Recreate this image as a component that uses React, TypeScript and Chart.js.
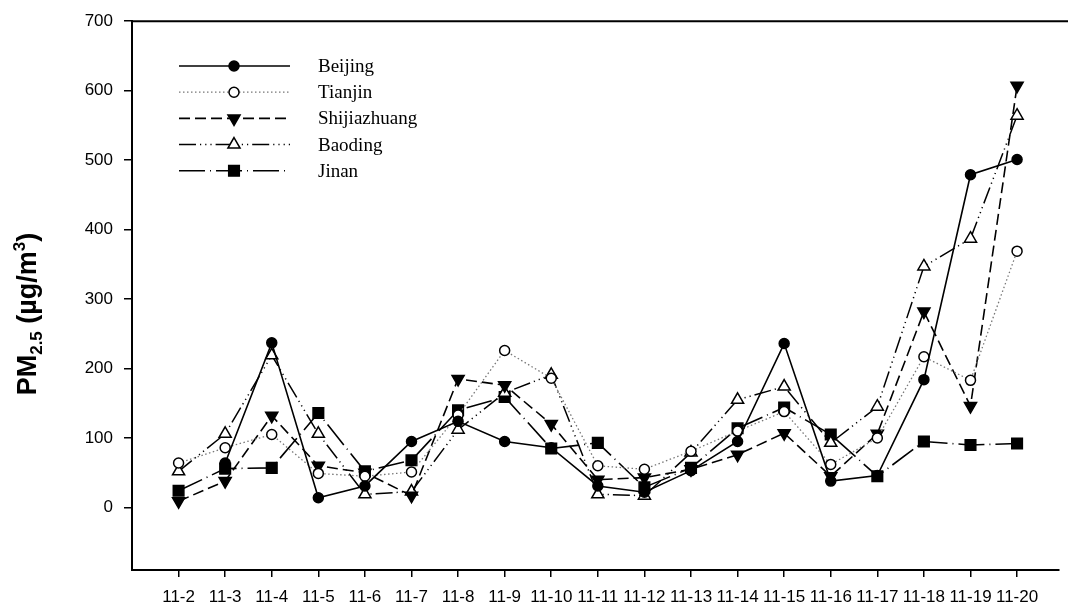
import React, { useEffect, useRef } from 'react';
import { Chart, registerables } from 'chart.js';

Chart.register(...registerables);

const categories = ['11-2', '11-3', '11-4', '11-5', '11-6', '11-7', '11-8', '11-9', '11-10', '11-11', '11-12', '11-13', '11-14', '11-15', '11-16', '11-17', '11-18', '11-19', '11-20'];
const beijing = [null, 64, 237, 14, 31, 95, 124, 95, 86, 31, 22, 53, 95, 236, 38, 46, 184, 479, 501];
const tianjin = [64, 86, 105, 49, 45, 51, 133, 226, 186, 60, 55, 81, 110, 138, 62, 100, 217, 183, 369];
const shijiazhuang = [9, 38, 132, 60, 50, 17, 185, 176, 120, 40, 43, 55, 76, 107, 45, 106, 282, 146, 607];
const baoding = [52, 106, 219, 106, 19, 23, 112, 165, 191, 19, 17, 79, 155, 174, 93, 145, 347, 387, 564];
const jinan = [24, 56, 57, 136, 52, 68, 140, 159, 85, 93, 29, 57, 114, 144, 105, 45, 95, 90, 92];
const yTicks = [0, 100, 200, 300, 400, 500, 600, 700];
const seriesNames = ['Beijing', 'Tianjin', 'Shijiazhuang', 'Baoding', 'Jinan'];

type Marker = { style: string; radius: number; fill: string; rotation: number };

function toPoints(values: (number | null)[]) {
  return values.map((v, i) => ({ x: i, y: v }));
}

function drawMarker(ctx: CanvasRenderingContext2D, m: Marker, x: number, y: number) {
  ctx.save();
  ctx.beginPath();
  ctx.setLineDash([]);
  ctx.lineWidth = 1.5;
  ctx.strokeStyle = '#000';
  ctx.fillStyle = m.fill;
  const r = m.radius;
  if (m.style === 'circle') {
    ctx.arc(x, y, r, 0, Math.PI * 2);
  } else if (m.style === 'triangle') {
    let rad = (m.rotation * Math.PI) / 180;
    ctx.moveTo(x + Math.sin(rad) * r, y - Math.cos(rad) * r);
    rad += (2 * Math.PI) / 3;
    ctx.lineTo(x + Math.sin(rad) * r, y - Math.cos(rad) * r);
    rad += (2 * Math.PI) / 3;
    ctx.lineTo(x + Math.sin(rad) * r, y - Math.cos(rad) * r);
    ctx.closePath();
  } else {
    const s = Math.SQRT1_2 * r;
    ctx.rect(x - s, y - s, 2 * s, 2 * s);
  }
  ctx.fill();
  ctx.stroke();
  ctx.restore();
}

const legendPlugin = {
  id: 'customLegend',
  afterDraw(chart: any) {
    const ctx: CanvasRenderingContext2D = chart.ctx;
    const area = chart.chartArea;
    // top frame line
    ctx.save();
    ctx.strokeStyle = '#000';
    ctx.lineWidth = 2;
    ctx.beginPath();
    ctx.moveTo(area.left - 1, area.top);
    ctx.lineTo(chart.width, area.top);
    ctx.stroke();
    ctx.restore();

    const x0 = 179;
    const x1 = 290;
    const xm = 234;
    const yStart = 66;
    const step = 26.2;
    chart.data.datasets.forEach((ds: any, i: number) => {
      const y = yStart + i * step;
      ctx.save();
      ctx.strokeStyle = ds.borderColor;
      ctx.lineWidth = ds.borderWidth;
      ctx.setLineDash(ds.borderDash || []);
      ctx.beginPath();
      ctx.moveTo(x0, y);
      ctx.lineTo(x1, y);
      ctx.stroke();
      ctx.restore();
      drawMarker(ctx, { style: ds.pointStyle, radius: ds.pointRadius, fill: ds.pointBackgroundColor, rotation: ds.rotation || 0 }, xm, y);
      ctx.save();
      ctx.fillStyle = '#000';
      ctx.font = '19px "Liberation Serif", "Times New Roman", serif';
      ctx.textBaseline = 'middle';
      ctx.textAlign = 'left';
      ctx.fillText(ds.label, 318, y + 1);
      ctx.restore();
    });

    // y axis title with subscript and superscript
    const big = 'bold 27px "Liberation Sans", Arial, sans-serif';
    const small = 'bold 17px "Liberation Sans", Arial, sans-serif';
    const parts = [
      { t: 'PM', f: big, dy: 0 },
      { t: '2.5', f: small, dy: 6 },
      { t: ' (\u00b5g/m', f: big, dy: 0 },
      { t: '3', f: small, dy: -11 },
      { t: ')', f: big, dy: 0 },
    ];
    ctx.save();
    let total = 0;
    parts.forEach((p) => {
      ctx.font = p.f;
      total += ctx.measureText(p.t).width;
    });
    const cx = 36;
    const cy = 314;
    ctx.translate(cx, cy);
    ctx.rotate(-Math.PI / 2);
    ctx.fillStyle = '#000';
    ctx.textBaseline = 'alphabetic';
    ctx.textAlign = 'left';
    let px = -total / 2;
    parts.forEach((p) => {
      ctx.font = p.f;
      ctx.fillText(p.t, px, p.dy);
      px += ctx.measureText(p.t).width;
    });
    ctx.restore();
  },
};

export default function App() {
  const canvasRef = useRef<HTMLCanvasElement | null>(null);

  useEffect(() => {
    const canvas = canvasRef.current;
    if (!canvas) return;
    Chart.defaults.font.family = '"Liberation Sans", Arial, sans-serif';
    Chart.defaults.color = '#000';
    const chart = new Chart(canvas, {
      type: 'line',
      data: {
        datasets: [
          {
            label: seriesNames[0],
            data: toPoints(beijing),
            borderColor: '#000',
            borderWidth: 1.6,
            borderDash: [],
            pointStyle: 'circle',
            pointRadius: 5,
            pointBackgroundColor: '#000',
            pointBorderColor: '#000',
            pointBorderWidth: 1.5,
          } as any,
          {
            label: seriesNames[1],
            data: toPoints(tianjin),
            borderColor: '#777',
            borderWidth: 1.3,
            borderDash: [1.5, 2.5],
            pointStyle: 'circle',
            pointRadius: 5,
            pointBackgroundColor: '#fff',
            pointBorderColor: '#000',
            pointBorderWidth: 1.5,
          },
          {
            label: seriesNames[2],
            data: toPoints(shijiazhuang),
            borderColor: '#000',
            borderWidth: 1.6,
            borderDash: [11, 5],
            pointStyle: 'triangle',
            rotation: 180,
            pointRotation: 180,
            pointRadius: 7,
            pointBackgroundColor: '#000',
            pointBorderColor: '#000',
            pointBorderWidth: 1.5,
          },
          {
            label: seriesNames[3],
            data: toPoints(baoding),
            borderColor: '#000',
            borderWidth: 1.5,
            borderDash: [17, 4, 1.2, 4, 1.2, 4, 1.2, 4],
            pointStyle: 'triangle',
            pointRadius: 7,
            pointBackgroundColor: '#fff',
            pointBorderColor: '#000',
            pointBorderWidth: 1.5,
          },
          {
            label: seriesNames[4],
            data: toPoints(jinan),
            borderColor: '#000',
            borderWidth: 1.6,
            borderDash: [26, 5, 1, 5],
            pointStyle: 'rect',
            pointRadius: 7.5,
            pointBackgroundColor: '#000',
            pointBorderColor: '#000',
            pointBorderWidth: 1.5,
          },
        ] as any,
      },
      options: {
        animation: false,
        responsive: false,
        devicePixelRatio: 1,
        spanGaps: false,
        layout: { padding: { top: 17, right: 0, bottom: 0, left: 0 } },
        plugins: {
          legend: { display: false },
          tooltip: { enabled: false },
        },
        elements: { line: { tension: 0 } },
        scales: {
          x: {
            type: 'linear',
            min: -1,
            max: 18.9,
            afterFit: (scale: any) => {
              scale.height = 42;
            },
            afterBuildTicks: (scale: any) => {
              scale.ticks = categories.map((_, i) => ({ value: i }));
            },
            grid: { display: true, drawOnChartArea: false, tickLength: 7, color: '#000', lineWidth: 1.5 },
            border: { display: true, color: '#000', width: 2 },
            ticks: {
              autoSkip: false,
              maxRotation: 0,
              minRotation: 0,
              padding: 10,
              color: '#000',
              font: { size: 17 },
              callback: (v: any) => categories[Number(v)] ?? '',
            },
          },
          y: {
            type: 'linear',
            min: -90,
            max: 700,
            afterFit: (scale: any) => {
              scale.width = 132;
            },
            afterBuildTicks: (scale: any) => {
              scale.ticks = yTicks.map((v) => ({ value: v }));
            },
            grid: { display: true, drawOnChartArea: false, tickLength: 8, color: '#000', lineWidth: 1.5 },
            border: { display: true, color: '#000', width: 2 },
            ticks: {
              padding: 11,
              color: '#000',
              font: { size: 17 },
            },
          },
        },
      } as any,
      plugins: [legendPlugin],
    });
    return () => chart.destroy();
  }, []);

  return (
    <div style={{ position: 'absolute', left: 0, top: 0, width: 1068, height: 612, background: '#fff' }}>
      <canvas ref={canvasRef} width={1068} height={612} style={{ display: 'block', width: 1068, height: 612 }} />
    </div>
  );
}
